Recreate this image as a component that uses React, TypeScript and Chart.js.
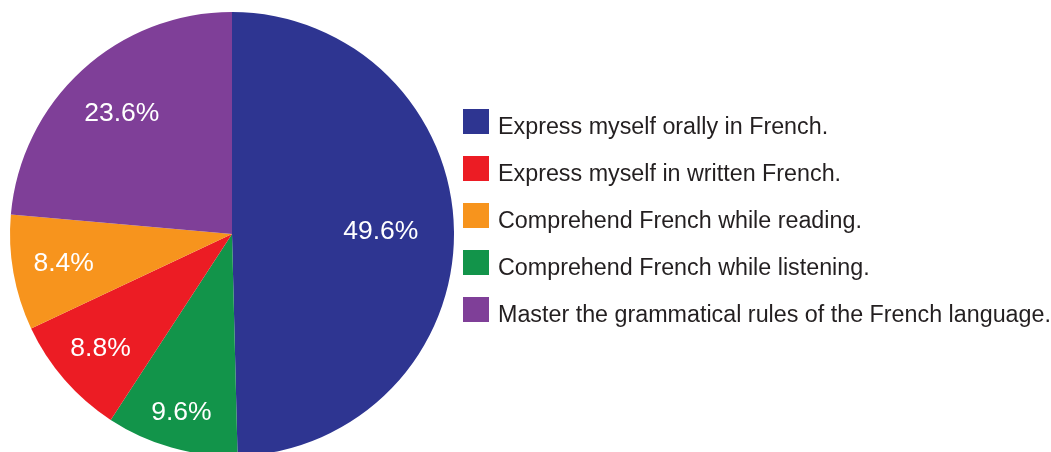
import React, { useEffect, useRef } from "react";
import { Chart, registerables } from "chart.js";

Chart.register(...registerables);

const categories = [
  "Express myself orally in French.",
  "Comprehend French while listening.",
  "Express myself in written French.",
  "Comprehend French while reading.",
  "Master the grammatical rules of the French language.",
];
const values = [49.6, 9.6, 8.8, 8.4, 23.6];
const colors = ["#2E3591", "#12944A", "#EC1C24", "#F7941D", "#7F3F98"];
const legendOrder = [
  "Express myself orally in French.",
  "Express myself in written French.",
  "Comprehend French while reading.",
  "Comprehend French while listening.",
  "Master the grammatical rules of the French language.",
];

const FONT = "'Liberation Sans', Arial, Helvetica, sans-serif";
const labelRadiusFrac = [0.67, 0.835, 0.785, 0.77, 0.735];

const sliceLabels = {
  id: "sliceLabels",
  afterDatasetsDraw(chart: any) {
    const ctx = chart.ctx;
    const meta = chart.getDatasetMeta(0);
    ctx.save();
    ctx.fillStyle = "#ffffff";
    ctx.font = `26.5px ${FONT}`;
    ctx.textAlign = "center";
    ctx.textBaseline = "middle";
    meta.data.forEach((arc: any, i: number) => {
      const mid = (arc.startAngle + arc.endAngle) / 2;
      const r = arc.outerRadius * labelRadiusFrac[i];
      const x = arc.x + Math.cos(mid) * r;
      const y = arc.y + Math.sin(mid) * r;
      ctx.fillText(values[i].toFixed(1) + "%", x, y);
    });
    ctx.restore();
  },
};

const sideLegend = {
  id: "sideLegend",
  afterDraw(chart: any) {
    const { ctx, chartArea } = chart;
    const boxW = 26;
    const boxH = 25;
    const rowGap = 47;
    const x0 = chartArea.right + 22;
    let y = chartArea.top + 93;
    ctx.save();
    ctx.font = `23.3px ${FONT}`;
    ctx.textAlign = "left";
    ctx.textBaseline = "alphabetic";
    legendOrder.forEach((name) => {
      const i = categories.indexOf(name);
      ctx.fillStyle = colors[i];
      ctx.fillRect(x0, y, boxW, boxH);
      ctx.fillStyle = "#231F20";
      ctx.fillText(name, x0 + boxW + 9, y + boxH);
      y += rowGap;
    });
    ctx.restore();
  },
};

export default function App() {
  const ref = useRef<HTMLCanvasElement | null>(null);
  useEffect(() => {
    if (!ref.current) return;
    const chart = new Chart(ref.current, {
      type: "pie",
      data: {
        labels: categories,
        datasets: [
          {
            data: values,
            backgroundColor: colors,
            borderWidth: 0,
            radius: 222,
            clip: false,
          } as any,
        ],
      },
      options: {
        responsive: false,
        animation: false,
        devicePixelRatio: 1,
        layout: { padding: { left: 23, right: 610, top: 16, bottom: 0 } },
        plugins: {
          tooltip: { enabled: false },
          legend: { display: false },
        },
      },
      plugins: [sliceLabels, sideLegend],
    });
    return () => chart.destroy();
  }, []);
  return (
    <div
      style={{
        position: "absolute",
        left: 0,
        top: 0,
        width: 1051,
        height: 452,
        overflow: "hidden",
        background: "#fff",
      }}
    >
      <canvas ref={ref} width={1051} height={452} style={{ display: "block" }} />
    </div>
  );
}
